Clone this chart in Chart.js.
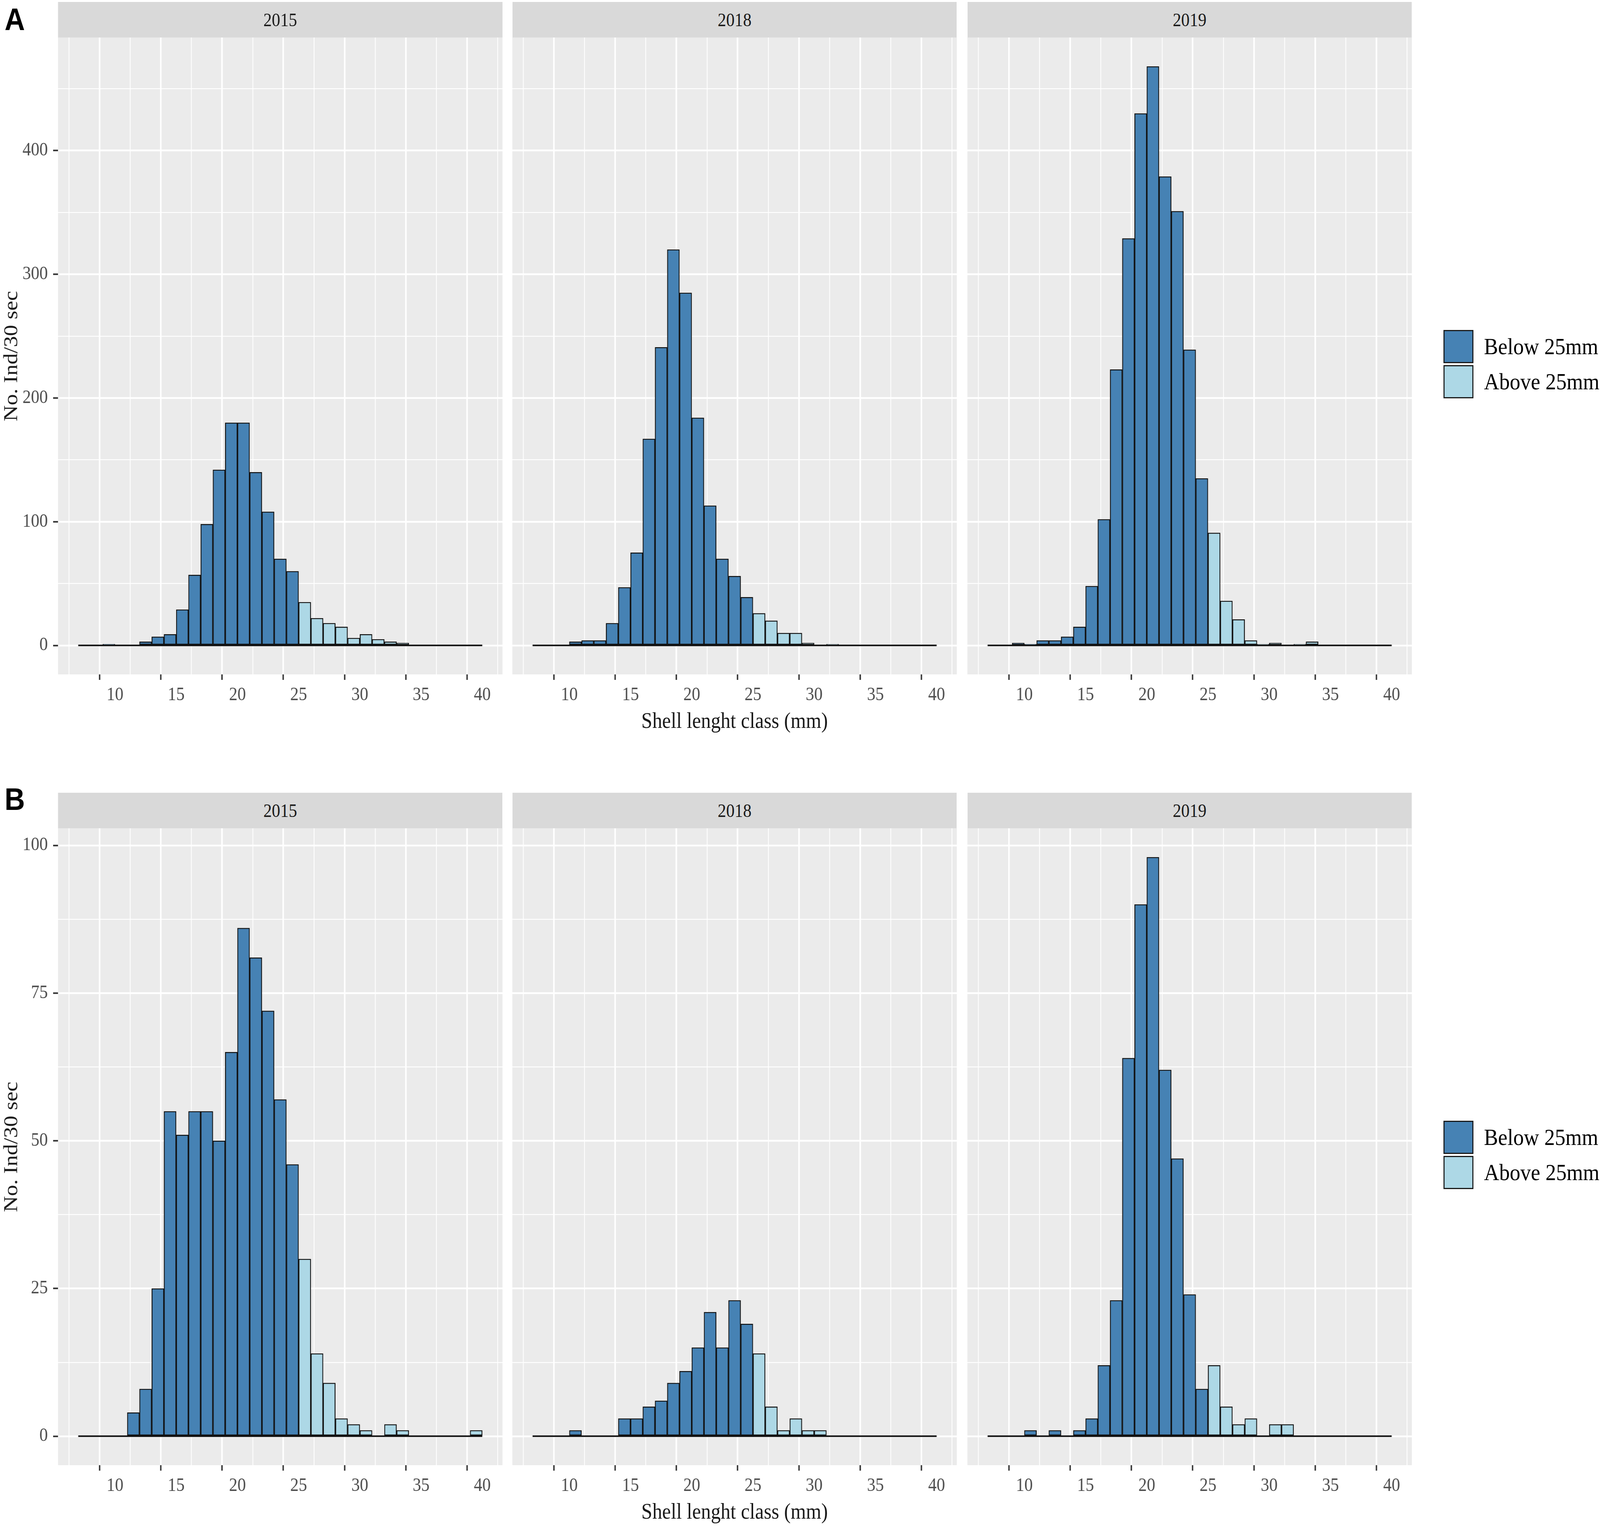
<!DOCTYPE html>
<html>
<head>
<meta charset="utf-8">
<title>Shell length classes</title>
<script src="https://cdn.jsdelivr.net/npm/chart.js@4.4.1/dist/chart.umd.min.js"></script>
<style>
  html, body { margin: 0; padding: 0; background: #fff; width: 100%; height: 100%; overflow: hidden; }
  #page { position: absolute; left: 0; top: 0; width: 4550px; height: 3918px; transform-origin: 0 0;
          font-family: "Liberation Serif", "Times New Roman", serif; color: #1a1a1a; }
  .abs { position: absolute; }
  .tag { font-family: "Liberation Sans", Arial, sans-serif; font-weight: bold; font-size: 80px; line-height: 80px; color: #000; }
  .strip { background: #d9d9d9; text-align: center; font-size: 48px; color: #1a1a1a; }
  .ytitle { font-size: 57px; line-height: 57px; white-space: nowrap; transform: translate(-50%, -50%) rotate(-90deg); }
  .xtitle { font-size: 56px; line-height: 56px; white-space: nowrap; transform: translateX(-50%); }
  .key { box-sizing: border-box; width: 85px; height: 85px; border: 3px solid #1a1a1a; }
  .keytext { font-size: 60px; line-height: 85px; white-space: nowrap; color: #000; }
  canvas { position: absolute; }
</style>
</head>
<body>
<div id="page"></div>
<script>
const years = ['2015', '2018', '2019'];
const binStart = 7;
const binEnd = 40;
const cutoff = 25;
const seriesNames = ['Below 25mm', 'Above 25mm'];

// individuals per 1 mm class: 7-8 mm, 8-9 mm ... 39-40 mm
const countsA2015 = [0,0,1,0,0,3,7,9,29,57,98,142,180,180,140,108,70,60,35,22,18,15,6,9,5,3,2,0,0,0,0,0,0];
const countsA2018 = [0,0,0,3,4,4,18,47,75,167,241,320,285,184,113,70,56,39,26,20,10,10,2,0,1,0,0,0,0,0,0,0,0];
const countsA2019 = [0,0,2,1,4,4,7,15,48,102,223,329,430,468,379,351,239,135,91,36,21,4,1,2,0,1,3,0,0,0,0,0,0];
const countsB2015 = [0,0,0,0,4,8,25,55,51,55,55,50,65,86,81,72,57,46,30,14,9,3,2,1,0,2,1,0,0,0,0,0,1];
const countsB2018 = [0,0,0,1,0,0,0,3,3,5,6,9,11,15,21,15,23,19,14,5,1,3,1,1,0,0,0,0,0,0,0,0,0];
const countsB2019 = [0,0,0,1,0,1,0,1,3,12,23,64,90,98,62,47,24,8,12,5,2,3,0,2,2,0,0,0,0,0,0,0,0];

const xMajor = [10, 15, 20, 25, 30, 35, 40];
const xMinor = [7.5, 12.5, 17.5, 22.5, 27.5, 32.5, 37.5];
const yMajorA = [0, 100, 200, 300, 400];
const yMinorA = [50, 150, 250, 350, 450];
const yMajorB = [0, 25, 50, 75, 100];
const yMinorB = [12.5, 37.5, 62.5, 87.5];

const colBelow = '#4682b4';
const colAbove = '#add8e6';
const outline = '#111111';

// page layout (px, on a 4550 x 3918 sheet)
const pageW = 4550, pageH = 3918;
const panelLeft = [165, 1457, 2751];
const panelW = 1264;
const panelH = 1631;
const stripH = 91;
const axisW = 105;
const axisH = 110;

const rows = [
  { tag: 'A', tagTop: 10, stripTop: 5, counts: [countsA2015, countsA2018, countsA2019], yMajor: yMajorA, yMinor: yMinorA },
  { tag: 'B', tagTop: 2007, stripTop: 2030, counts: [countsB2015, countsB2018, countsB2019], yMajor: yMajorB, yMinor: yMinorB }
];

// stretch the sheet over the viewport we actually get
const page = document.getElementById('page');
const sx = document.documentElement.clientWidth / pageW;
const sy = document.documentElement.clientHeight / pageH;
page.style.transform = 'scale(' + sx + ', ' + sy + ')';

Chart.defaults.font.family = '"Liberation Serif", "Times New Roman", serif';

const panelBg = {
  id: 'panelBg',
  beforeDraw(chart) {
    const { ctx, chartArea: a } = chart;
    ctx.save();
    ctx.fillStyle = '#ebebeb';
    ctx.fillRect(a.left, a.top, a.width, a.height);
    ctx.restore();
  }
};

function el(cls, text, css) {
  const d = document.createElement('div');
  d.className = 'abs ' + cls;
  if (text) d.textContent = text;
  Object.assign(d.style, css);
  page.appendChild(d);
  return d;
}

function toPoints(counts, keep) {
  return counts
    .map((v, i) => ({ x: binStart + i + 0.5, y: v }))
    .filter(p => p.y > 0 && keep(p.x));
}

const xTicks = xMajor.concat(xMinor).sort((a, b) => a - b);
const xSpan = binEnd - binStart;

function makeChart(canvas, counts, row, first) {
  const peak = Math.max(...row.counts.flat());
  const yTicks = row.yMajor.concat(row.yMinor).sort((a, b) => a - b);
  const isMajorY = c => c.tick && row.yMajor.includes(c.tick.value);
  const isMajorX = c => c.tick && xMajor.includes(c.tick.value);

  const barStyle = {
    borderColor: outline, borderWidth: 2.5, borderSkipped: false,
    grouped: false, barPercentage: 1, categoryPercentage: 1, order: 1
  };

  return new Chart(canvas, {
    type: 'bar',
    data: {
      datasets: [
        Object.assign({ label: seriesNames[0], data: toPoints(counts, x => x < cutoff), backgroundColor: colBelow }, barStyle),
        Object.assign({ label: seriesNames[1], data: toPoints(counts, x => x > cutoff), backgroundColor: colAbove }, barStyle),
        { type: 'line', label: 'base', data: [{ x: binStart, y: 0 }, { x: binEnd, y: 0 }],
          borderColor: outline, borderWidth: 4, pointRadius: 0, order: 0 }
      ]
    },
    options: {
      responsive: false,
      devicePixelRatio: 1,
      animation: false,
      events: [],
      layout: { padding: 0 },
      plugins: { legend: { display: false }, tooltip: { enabled: false } },
      scales: {
        x: {
          type: 'linear',
          min: binStart - xSpan * 0.05,
          max: binEnd + xSpan * 0.05,
          offset: false,
          afterBuildTicks: s => { s.ticks = xTicks.map(v => ({ value: v })); },
          afterFit: s => { s.height = axisH; s.paddingLeft = 0; s.paddingRight = 0; },
          ticks: {
            autoSkip: false, maxRotation: 0, minRotation: 0, padding: 11,
            color: '#4d4d4d', font: { size: 48 },
            callback: v => xMajor.includes(v) ? String(v) : ''
          },
          grid: {
            color: '#ffffff',
            lineWidth: c => isMajorX(c) ? 4.5 : 2.3,
            tickLength: 14, tickWidth: 4,
            tickColor: c => isMajorX(c) ? '#333333' : 'rgba(0,0,0,0)'
          },
          border: { display: false }
        },
        y: {
          type: 'linear',
          min: -peak * 0.05,
          max: peak * 1.05,
          afterBuildTicks: s => { s.ticks = yTicks.map(v => ({ value: v })); },
          afterFit: s => { s.width = first ? axisW : 0; s.paddingTop = 0; s.paddingBottom = 0; },
          ticks: {
            display: first, padding: 15,
            color: '#4d4d4d', font: { size: 48 },
            callback: v => row.yMajor.includes(v) ? String(v) : ''
          },
          grid: {
            color: '#ffffff',
            lineWidth: c => isMajorY(c) ? 4.5 : 2.3,
            drawTicks: first, tickLength: 14, tickWidth: 4,
            tickColor: c => isMajorY(c) ? '#333333' : 'rgba(0,0,0,0)'
          },
          border: { display: false }
        }
      }
    },
    plugins: [panelBg]
  });
}

rows.forEach(row => {
  const panelTop = row.stripTop + stripH;

  el('tag', row.tag, { left: '13px', top: row.tagTop + 'px' });

  years.forEach((year, c) => {
    el('strip', year, {
      left: panelLeft[c] + 'px', top: row.stripTop + 'px',
      width: panelW + 'px', height: stripH + 'px', lineHeight: stripH + 'px'
    });

    const first = c === 0;
    const canvas = document.createElement('canvas');
    const w = panelW + (first ? axisW : 0);
    const h = panelH + axisH;
    canvas.width = w;
    canvas.height = h;
    canvas.style.left = (panelLeft[c] - (first ? axisW : 0)) + 'px';
    canvas.style.top = panelTop + 'px';
    canvas.style.width = w + 'px';
    canvas.style.height = h + 'px';
    page.appendChild(canvas);
    makeChart(canvas, row.counts[c], row, first);
  });

  el('ytitle', 'No. Ind/30 sec', { left: '29px', top: (panelTop + panelH / 2) + 'px' });
  el('xtitle', 'Shell lenght class (mm)', {
    left: (panelLeft[1] + panelW / 2) + 'px', top: (panelTop + panelH + 90) + 'px'
  });

  const keyTop = panelTop + 749;
  [colBelow, colAbove].forEach((col, i) => {
    const top = keyTop + i * 90;
    el('key', '', { left: '4105px', top: top + 'px', background: col });
    el('keytext', seriesNames[i], { left: '4220px', top: top + 'px' });
  });
});
</script>
</body>
</html>
